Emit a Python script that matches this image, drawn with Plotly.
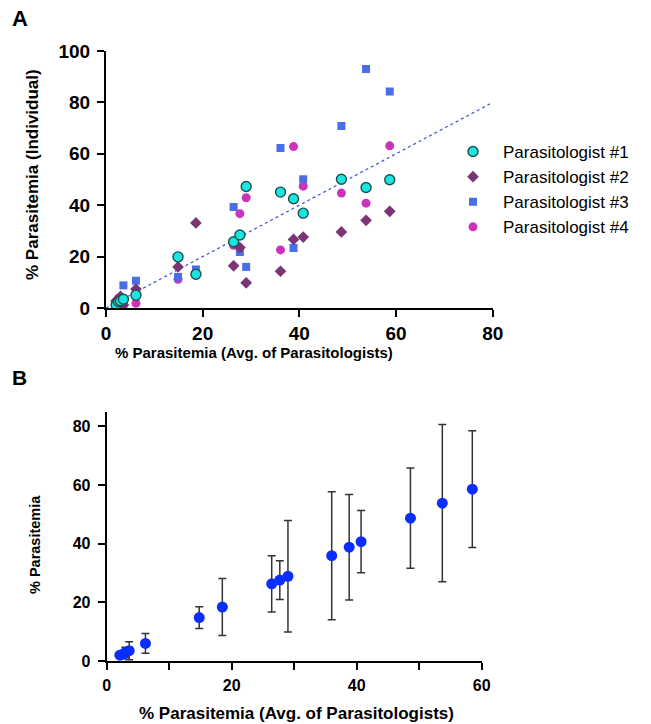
import plotly.graph_objects as go

# ---------------- Data ----------------
# Panel A: average of parasitologists (x) and individual readings (y)
avg_x = [2.1, 2.6, 3.0, 3.6, 6.2, 14.9, 18.6, 26.4, 27.7, 29.0, 36.1, 38.8, 40.8, 48.7, 53.8, 58.7]
p1 = [1.2, 2.4, 2.8, 3.4, 5.0, 19.9, 13.1, 25.8, 28.4, 47.3, 45.1, 42.5, 36.9, 50.1, 46.9, 49.9]
p2 = [2.8, 3.2, 4.5, 1.2, 7.4, 16.0, 33.1, 16.4, 23.5, 9.8, 14.3, 26.7, 27.6, 29.6, 34.1, 37.6]
p3 = [1.9, 1.0, 1.5, 8.8, 10.6, 12.1, 15.0, 39.3, 21.8, 16.0, 62.3, 23.3, 50.1, 70.8, 93.0, 84.2]
p4 = [2.5, 3.8, 3.2, 1.0, 1.8, 11.2, 12.8, 24.4, 36.7, 42.9, 22.6, 62.8, 47.4, 44.7, 40.8, 63.1]
series_names = ["Parasitologist #1", "Parasitologist #2", "Parasitologist #3", "Parasitologist #4"]
fit_x = [0, 80]
fit_y = [0, 80]

# Panel B: mean with error (SD)
b_x = [2.1, 2.6, 3.0, 3.6, 6.2, 14.8, 18.5, 26.4, 27.7, 29.0, 36.0, 38.8, 40.7, 48.6, 53.7, 58.5]
b_y = [2.0, 2.3, 2.9, 3.5, 6.0, 14.8, 18.4, 26.3, 27.6, 28.9, 35.9, 38.8, 40.7, 48.7, 53.8, 58.6]
b_err = [0.8, 1.2, 1.8, 3.1, 3.4, 3.7, 9.7, 9.6, 6.6, 19.0, 21.8, 18.0, 10.6, 17.1, 26.8, 19.9]

a_xticks = [0, 20, 40, 60, 80]
a_yticks = [0, 20, 40, 60, 80, 100]
b_xticks = [0, 10, 20, 30, 40, 50, 60]
b_xticktext = ["0", "", "20", "", "40", "", "60"]
b_yticks = [0, 20, 40, 60, 80]

# ---------------- Figure ----------------
W, H = 651, 724
FONT = "Liberation Sans, Arial, sans-serif"

fig = go.Figure()

styles = [
    dict(symbol="circle", color="#19e6e0", size=10, line=dict(color="#1d4f4f", width=1.4)),
    dict(symbol="diamond", color="#7a3577", size=9, line=dict(width=0)),
    dict(symbol="square", color="#4a6ee6", size=8, line=dict(width=0)),
    dict(symbol="circle", color="#cc33bb", size=9, line=dict(width=0)),
]

fig.add_trace(go.Scatter(x=fit_x, y=fit_y, mode="lines",
                         line=dict(color="#3d52d0", width=1.2, dash="dot"),
                         showlegend=False, xaxis="x", yaxis="y", hoverinfo="skip"))

# draw #4 first so that #1 ends on top; legend order restored with traceorder reversed
series = list(zip(series_names, [p1, p2, p3, p4], styles))
for name, vals, st in reversed(series):
    fig.add_trace(go.Scatter(x=avg_x, y=vals, mode="markers", name=name,
                             marker=st, xaxis="x", yaxis="y"))

fig.add_trace(go.Scatter(x=b_x, y=b_y, mode="markers",
                         marker=dict(symbol="circle", color="#0a2eff", size=11),
                         error_y=dict(type="data", array=b_err, visible=True,
                                      color="#333333", thickness=1.5, width=4),
                         showlegend=False, xaxis="x2", yaxis="y2"))


def px_x(p):
    return p / W


def px_y(p):
    return 1 - p / H


def axis_style(size, standoff):
    return dict(showgrid=False, zeroline=False, showline=True, linecolor="black",
                linewidth=2, ticks="outside", ticklen=7, tickwidth=2, tickcolor="black",
                ticklabelstandoff=standoff, automargin=False,
                tickfont=dict(family=FONT, size=size, color="black", weight="bold"))


fig.update_layout(
    template="none",
    width=W, height=H,
    margin=dict(l=0, r=0, t=0, b=0, pad=0, autoexpand=False),
    paper_bgcolor="white", plot_bgcolor="white",
    font=dict(family=FONT, color="black"),
    xaxis=dict(domain=[px_x(106), px_x(492.7)], range=[0, 80], tickvals=a_xticks,
               anchor="y", **axis_style(19, 0)),
    yaxis=dict(domain=[px_y(308), px_y(51)], range=[0, 100], tickvals=a_yticks,
               anchor="x", **axis_style(19, 3)),
    xaxis2=dict(domain=[px_x(106.7), px_x(481.7)], range=[0, 60], tickvals=b_xticks,
                ticktext=b_xticktext, anchor="y2", **axis_style(16, 2)),
    yaxis2=dict(domain=[px_y(661), px_y(411.7)], range=[0, 85], tickvals=b_yticks,
                anchor="x2", **axis_style(16, 4)),
    legend=dict(x=px_x(443), y=px_y(134), xanchor="left", yanchor="top",
                font=dict(family=FONT, size=17, color="black"),
                traceorder="reversed",
                bgcolor="rgba(0,0,0,0)", borderwidth=0, itemwidth=50, tracegroupgap=0),
    showlegend=True,
)

ann = [
    dict(text="<b>A</b>", x=px_x(10), y=px_y(19), xanchor="left", yanchor="middle", font=dict(size=22)),
    dict(text="<b>B</b>", x=px_x(10), y=px_y(377), xanchor="left", yanchor="middle", font=dict(size=21)),
    dict(text="<b>% Parasitemia (Avg. of Parasitologists)</b>", x=px_x(254), y=px_y(353),
         xanchor="center", yanchor="middle", font=dict(size=15)),
    dict(text="<b>% Parasitemia (Avg. of Parasitologists)</b>", x=px_x(296), y=px_y(713),
         xanchor="center", yanchor="middle", font=dict(size=17)),
    dict(text="<b>% Parasitemia (Individual)</b>", x=px_x(33), y=px_y(175), textangle=-90,
         xanchor="center", yanchor="middle", font=dict(size=17)),
    dict(text="<b>% Parasitemia</b>", x=px_x(35), y=px_y(545), textangle=-90,
         xanchor="center", yanchor="middle", font=dict(size=14.5)),
]
for a in ann:
    a.update(xref="paper", yref="paper", showarrow=False)
    a["font"].update(family=FONT, color="black")
fig.update_layout(annotations=ann)

fig.write_html(
    "out.html",
    config={"displayModeBar": False},
    post_script=("document.body.style.margin='0px';"
                 "document.body.style.overflow='hidden';"
                 "document.documentElement.style.overflow='hidden';"),
)
